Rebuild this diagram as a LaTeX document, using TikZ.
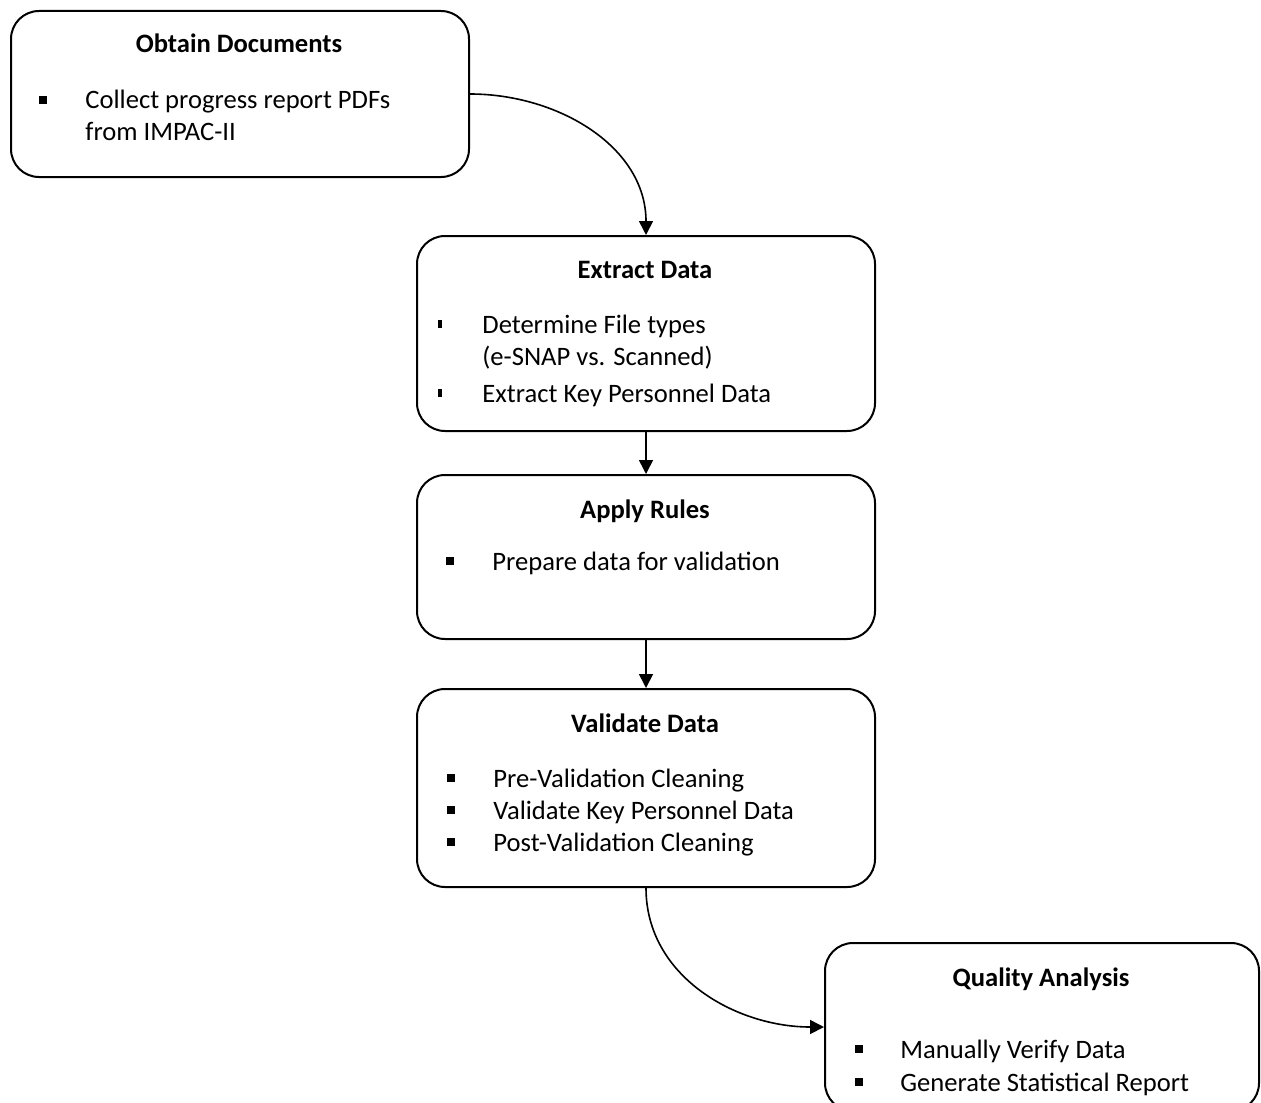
\documentclass[tikz,border=0pt]{standalone}
\usepackage{fontspec}
\setmainfont{Carlito}
\usetikzlibrary{arrows.meta}
\newcommand{\boxfont}{\fontsize{13.3}{16}\selectfont}
\newcommand{\sqbul}{\rule[2.5pt]{3.8pt}{3.8pt}}
\newcommand{\barbul}{\rule[2.5pt]{2pt}{4pt}}
\begin{document}
\begin{tikzpicture}[x=0.5pt,y=-0.5pt,
  box/.style={draw, line width=1pt, rounded corners=14pt, anchor=north west, inner sep=0pt},
  title/.style={anchor=base, font=\boxfont\bfseries},
  items/.style={anchor=base west, inner sep=0pt, font=\boxfont},
  flow/.style={line width=0.8pt, -{Triangle[length=7pt,width=7pt]}}]
\useasboundingbox (0,0) rectangle (1261,1102);
\clip (0,0) rectangle (1261,1102);

\node[box, minimum width=229pt, minimum height=83pt] (obtain) at (10,10) {};
\node[box, minimum width=229pt, minimum height=97.5pt] (extract) at (416,235) {};
\node[box, minimum width=229pt, minimum height=82pt] (apply) at (416,474) {};
\node[box, minimum width=229pt, minimum height=99pt] (validate) at (416,688) {};
\node[box, minimum width=217pt, minimum height=84pt] (quality) at (824,942) {};

\node[title] (obtainT) at (239,53) {Obtain Documents};
\node[title] (extractT) at (645,278) {Extract Data};
\node[title] (applyT) at (645,518) {Apply Rules};
\node[title] (validateT) at (645,732) {Validate Data};
\node[title] (qualityT) at (1041,986) {Quality Analysis};

\node[items] (obtainL) at (39,109) {\begin{tabular}[t]{@{}p{23pt}@{}l@{}}
  \sqbul & Collect progress report PDFs\\
         & from IMPAC-II
\end{tabular}};
\node[items] (extractL) at (438,333) {\begin{tabular}[t]{@{}p{22pt}@{}l@{}}
  \barbul & Determine File types\\
          & (e-SNAP vs. Scanned)\\[2.5pt]
  \barbul & Extract Key Personnel Data
\end{tabular}};
\node[items] (applyL) at (446,570) {\begin{tabular}[t]{@{}p{23pt}@{}l@{}}
  \sqbul & Prepare data for validation
\end{tabular}};
\node[items] (validateL) at (447,787) {\begin{tabular}[t]{@{}p{23pt}@{}l@{}}
  \sqbul & Pre-Validation Cleaning\\
  \sqbul & Validate Key Personnel Data\\
  \sqbul & Post-Validation Cleaning
\end{tabular}};
\node[items] (qualityL) at (855,1058) {\begin{tabular}[t]{@{}p{22.5pt}@{}l@{}}
  \sqbul & Manually Verify Data\\[0.5pt]
  \sqbul & Generate Statistical Report
\end{tabular}};

\draw[flow] (obtain.east) to[out=0,in=90] (extract.north);
\draw[flow] (extract) -- (apply);
\draw[flow] (apply) -- (validate);
\draw[flow] (validate.south) to[out=-90,in=180] (quality.west);
\end{tikzpicture}
\end{document}
